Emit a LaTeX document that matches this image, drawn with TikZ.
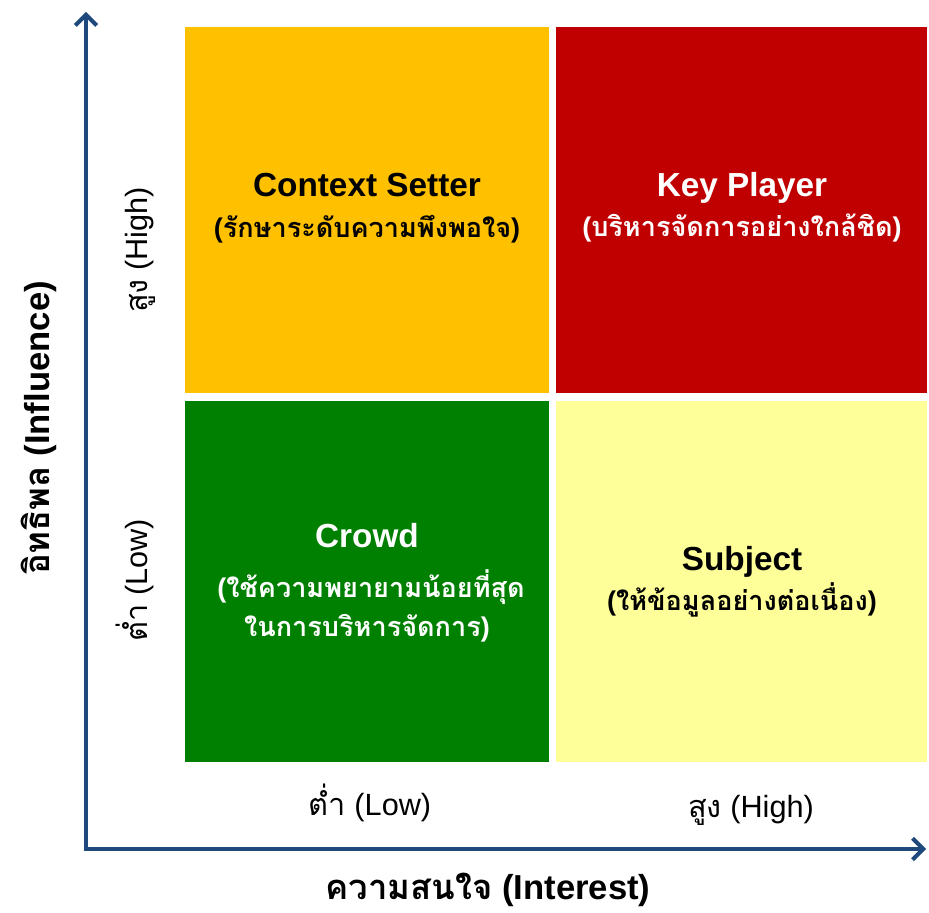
\documentclass[tikz,border=0pt]{standalone}
\usepackage{fontspec}
\setmainfont{Liberation Sans}
\newfontfamily\thaifont[Script=Thai]{Loma}
\newcommand{\tx}[1]{{\thaifont #1}}
\usetikzlibrary{arrows.meta}
\definecolor{axisblue}{RGB}{31,73,125}
\definecolor{qorange}{RGB}{255,192,0}
\definecolor{qred}{RGB}{192,0,0}
\definecolor{qgreen}{RGB}{0,128,0}
\definecolor{qyellow}{RGB}{255,255,153}
\begin{document}
\begin{tikzpicture}[x=0.75pt,y=-0.75pt,
  quad/.style={draw=none, inner sep=0pt, outer sep=0pt, anchor=north west},
  title/.style={anchor=base, inner sep=0pt, font=\fontsize{25}{30}\selectfont\bfseries},
  sub/.style={anchor=base, inner sep=0pt, font=\fontsize{20.3}{24}\selectfont\bfseries},
  axlab/.style={anchor=base, inner sep=0pt, font=\fontsize{23}{27}\selectfont},
  axtitle/.style={anchor=base, inner sep=0pt, font=\fontsize{26}{30}\selectfont\bfseries},
  axisline/.style={draw=axisblue, line width=3pt, {Straight Barb[length=8pt,width=16pt]}-{Straight Barb[length=8pt,width=16pt]}}
]
\useasboundingbox (0,0) rectangle (929,913);
% quadrants
\node[quad, fill=qorange, minimum width=273pt, minimum height=274.5pt] (ctx) at (185,27) {};
\node[quad, fill=qred, minimum width=278.25pt, minimum height=274.5pt] (key) at (556,27) {};
\node[quad, fill=qgreen, minimum width=273pt, minimum height=270.75pt] (crowd) at (185,401) {};
\node[quad, fill=qyellow, minimum width=278.25pt, minimum height=270.75pt] (subj) at (556,401) {};
% texts
\node[title] (ctxt) at (367,197) {Context Setter};
\node[sub] (ctxs) at (367,238) {(\tx{รักษาระดับความพึงพอใจ})};
\node[title, text=white] (keyt) at (742,197) {Key Player};
\node[sub, text=white] (keys) at (742,237) {(\tx{บริหารจัดการอย่างใกล้ชิด})};
\node[title, text=white] (crt) at (367,547) {Crowd};
\node[sub, text=white] (crs1) at (371,597) {(\tx{ใช้ความพยายามน้อยที่สุด}};
\node[sub, text=white] (crs2) at (367,636) {\tx{ในการบริหารจัดการ})};
\node[title] (subt) at (742,570) {Subject};
\node[sub] (subs) at (742,610) {(\tx{ให้ข้อมูลอย่างต่อเนื่อง})};
% axes
\coordinate (o) at (86,849);
\coordinate (ytop) at (86,12);
\coordinate (xend) at (926,849);
\draw[axisline] (ytop) -- (o) -- (xend);
% axis labels
\node[axlab] (xlow) at (370,815) {\tx{ต่ำ} (Low)};
\node[axlab] (xhigh) at (751,817) {\tx{สูง} (High)};
\node[axtitle] (xtit) at (488,899) {\tx{ความสนใจ} (Interest)};
\node[axlab, rotate=90] (yhigh) at (147,250) {\tx{สูง} (High)};
\node[axlab, rotate=90] (ylow) at (147,580) {\tx{ต่ำ} (Low)};
\node[axtitle, rotate=90] (ytit) at (50,428) {\tx{อิทธิพล} (Influence)};
\end{tikzpicture}
\end{document}
